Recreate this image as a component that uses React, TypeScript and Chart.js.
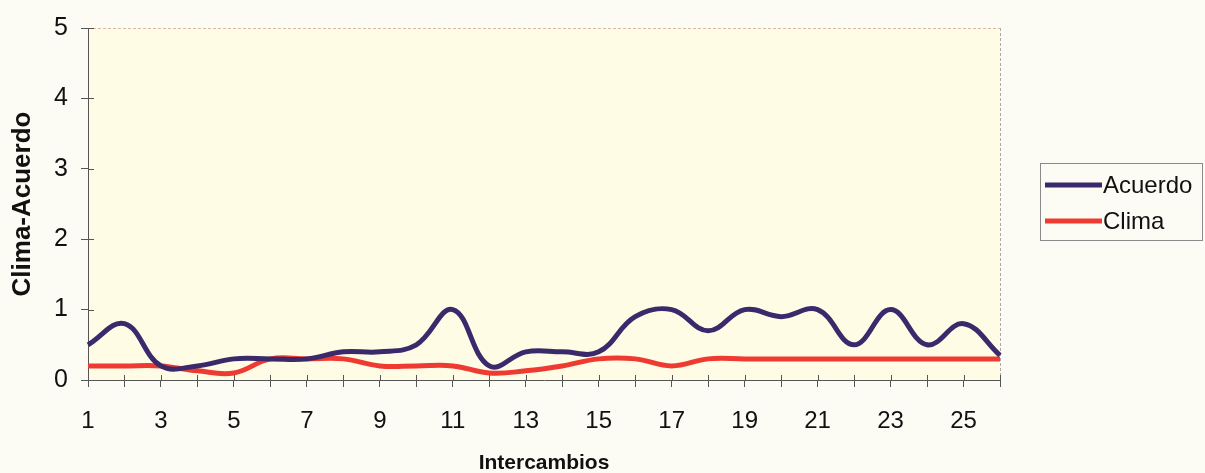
import React, { useEffect, useRef } from "react";
import { Chart, registerables } from "chart.js";

Chart.register(...registerables);

const categories = ["1","2","3","4","5","6","7","8","9","10","11","12","13","14","15","16","17","18","19","20","21","22","23","24","25","26"];
const acuerdo = [0.5, 0.8, 0.2, 0.2, 0.3, 0.3, 0.3, 0.4, 0.4, 0.5, 1.0, 0.2, 0.4, 0.4, 0.4, 0.9, 1.0, 0.7, 1.0, 0.9, 1.0, 0.5, 1.0, 0.5, 0.8, 0.35];
const clima = [0.2, 0.2, 0.2, 0.13, 0.1, 0.3, 0.3, 0.3, 0.2, 0.2, 0.2, 0.1, 0.13, 0.2, 0.3, 0.3, 0.2, 0.3, 0.3, 0.3, 0.3, 0.3, 0.3, 0.3, 0.3, 0.3];
const yTicks = [0, 1, 2, 3, 4, 5];

const FONT = "'Liberation Sans', Arial, sans-serif";
const W = 1205;
const H = 473;
const PLOT_LEFT = 88;
const PLOT_RIGHT = 1000;
const PLOT_TOP = 27;
const PLOT_BOTTOM = 380;

const bgPlugin = {
  id: "bgPlugin",
  beforeDraw(chart: any) {
    const { ctx, chartArea } = chart;
    ctx.save();
    ctx.fillStyle = "#fcfcf5";
    ctx.fillRect(0, 0, chart.width, chart.height);
    ctx.fillStyle = "#fffce6";
    ctx.fillRect(chartArea.left, chartArea.top, chartArea.right - chartArea.left, chartArea.bottom - chartArea.top);
    ctx.restore();
  },
  beforeDatasetsDraw(chart: any) {
    const { ctx, chartArea, scales } = chart;
    ctx.save();
    ctx.lineWidth = 1;
    ctx.setLineDash([3, 2]);
    ctx.strokeStyle = "#e0b4a8";
    ctx.beginPath();
    ctx.moveTo(chartArea.left, chartArea.top + 0.5);
    ctx.lineTo(chartArea.right, chartArea.top + 0.5);
    ctx.stroke();
    ctx.strokeStyle = "#b0a8a8";
    ctx.beginPath();
    ctx.moveTo(chartArea.right + 0.5, chartArea.top);
    ctx.lineTo(chartArea.right + 0.5, chartArea.bottom);
    ctx.stroke();
    ctx.setLineDash([]);
    ctx.strokeStyle = "#555";
    ctx.beginPath();
    scales.x.ticks.forEach((_t: any, i: number) => {
      const x = Math.round(scales.x.getPixelForTick(i)) + 0.5;
      ctx.moveTo(x, chartArea.bottom);
      ctx.lineTo(x, chartArea.bottom - 5);
    });
    scales.y.ticks.forEach((_t: any, i: number) => {
      const y = Math.round(scales.y.getPixelForTick(i)) + 0.5;
      ctx.moveTo(chartArea.left, y);
      ctx.lineTo(chartArea.left + 6, y);
    });
    ctx.stroke();
    ctx.restore();
  },
  afterDraw(chart: any) {
    const { ctx } = chart;
    ctx.save();
    ctx.strokeStyle = "#8a8a8a";
    ctx.lineWidth = 1;
    ctx.strokeRect(1040.5, 163.5, 162, 77);
    const rows = [185, 221];
    chart.data.datasets.forEach((ds: any, i: number) => {
      const y = rows[i];
      ctx.strokeStyle = ds.borderColor;
      ctx.lineWidth = 5;
      ctx.beginPath();
      ctx.moveTo(1045, y);
      ctx.lineTo(1102, y);
      ctx.stroke();
      ctx.fillStyle = "#111";
      ctx.font = `24px ${FONT}`;
      ctx.textBaseline = "middle";
      ctx.textAlign = "left";
      ctx.fillText(ds.label, 1103, y + 1);
    });
    ctx.restore();
  },
};

export default function App() {
  const ref = useRef<HTMLCanvasElement | null>(null);
  useEffect(() => {
    if (!ref.current) return;
    const chart = new Chart(ref.current, {
      type: "line",
      data: {
        labels: categories,
        datasets: [
          {
            label: "Acuerdo",
            data: acuerdo,
            borderColor: "#3b2a6b",
            borderWidth: 5,
            pointRadius: 0,
            tension: 0.4,
            fill: false,
          },
          {
            label: "Clima",
            data: clima,
            borderColor: "#ee3a30",
            borderWidth: 5,
            pointRadius: 0,
            tension: 0.4,
            fill: false,
          },
        ],
      },
      options: {
        responsive: false,
        animation: false,
        layout: { padding: { top: PLOT_TOP, right: W - PLOT_RIGHT, left: 0, bottom: 0 } },
        plugins: { legend: { display: false }, tooltip: { enabled: false } },
        scales: {
          x: {
            type: "category",
            offset: false,
            afterFit: (s: any) => { s.height = H - PLOT_BOTTOM; },
            grid: { drawOnChartArea: false, drawTicks: true, tickLength: 7, color: "#555" },
            border: { display: true, color: "#555", width: 1 },
            ticks: {
              autoSkip: false,
              maxRotation: 0,
              padding: 20,
              color: "#111",
              font: { family: FONT, size: 24 },
              callback: (_v: any, i: number) => (i % 2 === 0 ? categories[i] : ""),
            },
            title: {
              display: true,
              text: "Intercambios",
              color: "#111",
              font: { family: FONT, size: 21, weight: "bold" },
              padding: { top: 0, bottom: -3 },
            },
          },
          y: {
            min: 0,
            max: 5,
            afterFit: (s: any) => { s.width = PLOT_LEFT; },
            afterBuildTicks: (s: any) => { s.ticks = yTicks.map((v) => ({ value: v })); },
            grid: { drawOnChartArea: false, drawTicks: true, tickLength: 7, color: "#555" },
            border: { display: true, color: "#555", width: 1 },
            ticks: {
              padding: 13,
              color: "#111",
              font: { family: FONT, size: 25 },
            },
            title: {
              display: true,
              text: "Clima-Acuerdo",
              color: "#111",
              font: { family: FONT, size: 26, weight: "bold" },
              padding: { top: 7, bottom: 0 },
            },
          },
        },
      },
      plugins: [bgPlugin],
    });
    return () => chart.destroy();
  }, []);
  return (
    <div style={{ position: "fixed", left: 0, top: 0, width: W, height: H }}>
      <canvas ref={ref} width={W} height={H} style={{ display: "block", width: W, height: H }} />
    </div>
  );
}
